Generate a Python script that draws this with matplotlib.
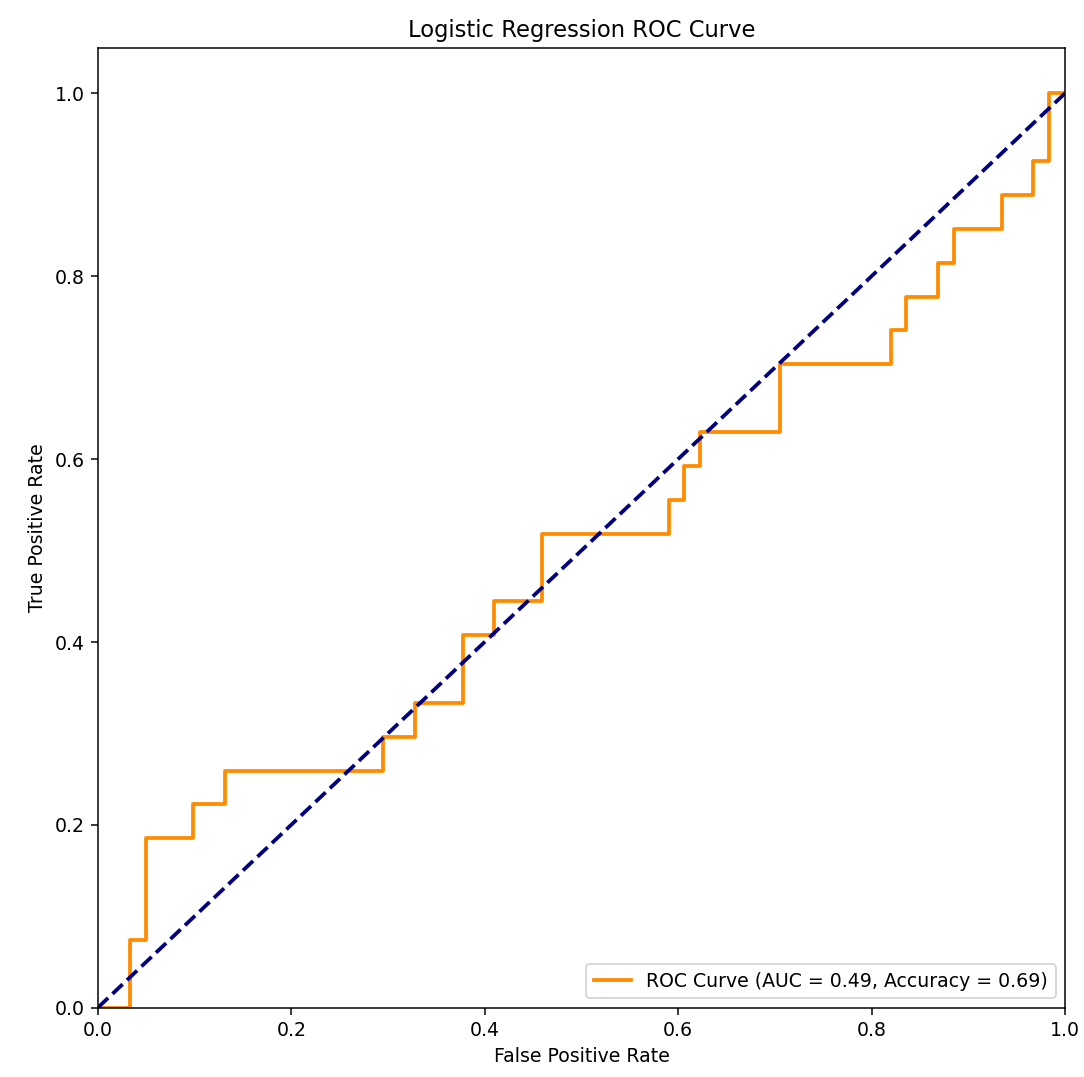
import numpy as np
import matplotlib
matplotlib.use("Agg")
import matplotlib.pyplot as plt

# ROC points (61 negatives, 27 positives)
n_neg = 61
n_pos = 27
fp_counts = [0, 2, 2, 3, 3, 6, 6, 8, 8, 18, 18, 20, 20, 23, 23, 25, 25, 28, 28,
             36, 36, 37, 37, 38, 38, 43, 43, 50, 50, 51, 51, 53, 53, 54, 54,
             57, 57, 59, 59, 60, 60, 61]
tp_counts = [0, 0, 2, 2, 5, 5, 6, 6, 7, 7, 8, 8, 9, 9, 11, 11, 12, 12, 14,
             14, 15, 15, 16, 16, 17, 17, 19, 19, 20, 20, 21, 21, 22, 22, 23,
             23, 24, 24, 25, 25, 27, 27]
auc = 0.49
accuracy = 0.69

fpr = np.array(fp_counts) / n_neg
tpr = np.array(tp_counts) / n_pos

fig = plt.figure(figsize=(8, 7.95), dpi=135.5)
ax = fig.add_axes([0.0904, 0.0645, 0.892, 0.891])
ax.plot(fpr, tpr, color='darkorange', lw=2,
        label=f'ROC Curve (AUC = {auc:.2f}, Accuracy = {accuracy:.2f})')
ax.plot([0, 1], [0, 1], color='navy', lw=2, linestyle='--')
ax.set_xlim(0.0, 1.0)
ax.set_ylim(0.0, 1.05)
ax.set_xlabel('False Positive Rate')
ax.set_ylabel('True Positive Rate')
ax.set_title('Logistic Regression ROC Curve')
ax.legend(loc='lower right')
fig.savefig('out.png', dpi=135.5)
